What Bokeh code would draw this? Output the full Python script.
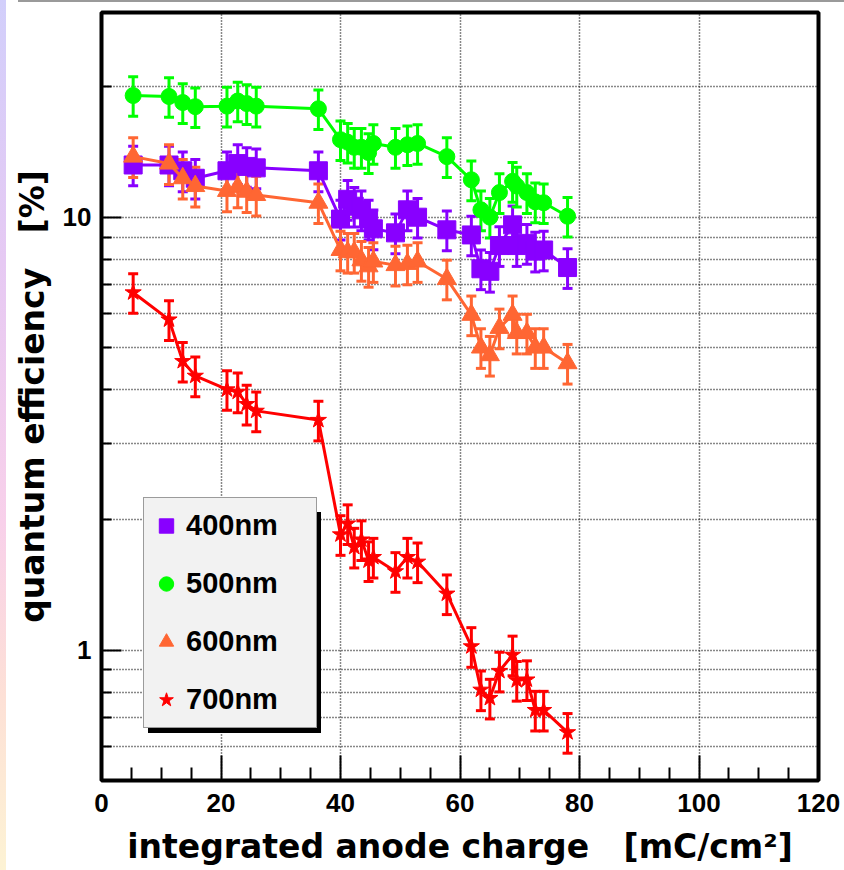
import numpy as np
from bokeh.plotting import figure
from bokeh.models import (ColumnDataSource, Whisker, TeeHead, Legend, LegendItem,
                          FixedTicker, Range1d, PrintfTickFormatter)
from bokeh.embed import file_html
from bokeh.resources import INLINE

# integrated anode charge [mC/cm^2] at each measurement
charge = [5.3, 11.3, 13.6, 15.7, 21.0, 22.8, 24.3, 25.9, 36.3,
          40.0, 41.2, 42.3, 43.5, 44.7, 45.5, 49.2, 51.2, 52.9, 57.8,
          61.9, 63.5, 65.0, 66.6, 68.8, 69.5, 71.2, 72.6, 74.0, 78.0]

# quantum efficiency [%] per wavelength
qe_400 = [13.2, 13.2, 12.8, 12.3, 12.8, 13.3, 13.1, 13.0, 12.8,
          9.9, 11.0, 10.6, 10.4, 9.9, 9.4, 9.2, 10.4, 10.0, 9.35,
          9.1, 7.6, 7.5, 8.6, 9.6, 8.6, 8.7, 8.35, 8.4, 7.65]
qe_500 = [19.1, 19.0, 18.4, 18.0, 18.05, 18.55, 18.3, 18.05, 17.8,
          15.1, 14.9, 14.5, 14.5, 14.1, 14.8, 14.5, 14.7, 14.8, 13.8,
          12.2, 10.4, 10.0, 11.4, 12.1, 11.8, 11.4, 10.85, 10.8, 10.05]
qe_600 = [13.8, 13.3, 12.3, 11.8, 11.5, 11.75, 11.45, 11.25, 10.8,
          8.4, 8.3, 8.3, 7.95, 7.7, 7.9, 7.75, 7.8, 7.9, 7.2,
          5.95, 5.0, 4.8, 5.55, 5.95, 5.4, 5.4, 5.0, 5.0, 4.6]
qe_700 = [6.7, 5.8, 4.65, 4.3, 4.0, 3.95, 3.7, 3.57, 3.4,
          1.85, 1.96, 1.73, 1.80, 1.61, 1.64, 1.52, 1.64, 1.60, 1.35,
          1.02, 0.81, 0.775, 0.895, 0.975, 0.852, 0.855, 0.727, 0.727, 0.646]

# relative uncertainty quoted on every QE measurement
REL_ERR = 0.105

labels = ["400nm", "500nm", "600nm", "700nm"]
series = [qe_400, qe_500, qe_600, qe_700]
colors = ["#8800ff", "#00ff00", "#ff6633", "#ff0000"]
markers = ["square", "circle", "triangle", "star"]
msizes = [18, 16, 19, 17]

x_ticks = [0, 20, 40, 60, 80, 100, 120]
x_minor = [v for v in range(5, 120, 5) if v % 20]
y_ticks = [1, 10]
y_minor = [0.5, 0.6, 0.7, 0.8, 0.9, 2, 3, 4, 5, 6, 7, 8, 9, 20]

NBSP3 = "\u00a0\u00a0\u00a0"

p = figure(width=844, height=870, x_range=Range1d(0, 120), y_range=Range1d(0.5, 29.7),
           y_axis_type="log", output_backend="svg", toolbar_location=None,
           min_border_left=101, min_border_right=26, min_border_top=12,
           min_border_bottom=90)

# page decoration: thin pastel strip on the left, grey rule on top
p.border_fill_alpha = 0
p.styles = {
    "background": ("linear-gradient(to bottom, #d2cffb 0%, #e6c9f3 30%, #f8d0ea 60%, "
                   "#fde0d6 80%, #fdf3d4 100%) 0 0 / 6px 100% no-repeat, "
                   "linear-gradient(#9a9a9a, #9a9a9a) 18px 0 / 100% 2px no-repeat, #ffffff"),
}
p.background_fill_color = "white"
p.outline_line_color = "black"
p.outline_line_width = 4

# axes
for ax in (p.xaxis[0], p.yaxis[0]):
    ax.axis_line_color = None
    ax.major_tick_out = 0
    ax.minor_tick_out = 0
    ax.major_tick_line_color = "black"
    ax.minor_tick_line_color = "black"
    ax.major_tick_line_width = 2
    ax.minor_tick_line_width = 2
    ax.major_label_text_font = "Liberation Sans"
    ax.major_label_text_font_style = "bold"
    ax.major_label_text_font_size = "26px"
    ax.major_label_text_color = "black"
    ax.axis_label_text_font = "DejaVu Sans"
    ax.axis_label_text_font_style = "bold"
    ax.axis_label_text_font_size = "33px"
    ax.axis_label_text_color = "black"

p.xaxis.ticker = FixedTicker(ticks=x_ticks, minor_ticks=x_minor)
p.xaxis.major_tick_in = 25
p.xaxis.minor_tick_in = 13
p.xaxis.major_label_standoff = 13
p.xaxis.axis_label_standoff = 12
p.xaxis.axis_label = "integrated anode charge" + NBSP3 + "[mC/cm\u00b2]"

p.yaxis.ticker = FixedTicker(ticks=y_ticks, minor_ticks=y_minor)
p.yaxis.formatter = PrintfTickFormatter(format="%d")
p.yaxis.major_tick_in = 20
p.yaxis.minor_tick_in = 10
p.yaxis.major_label_standoff = 10
p.yaxis.axis_label_standoff = 8
p.yaxis.axis_label = "quantum efficiency" + NBSP3 + "[%]"

# dotted grid
for g in (p.xgrid[0], p.ygrid[0]):
    g.grid_line_color = "#111111"
    g.grid_line_dash = "1 2"
    g.grid_line_width = 1.5
p.xgrid.ticker = FixedTicker(ticks=x_ticks)
p.ygrid.minor_grid_line_color = "#111111"
p.ygrid.minor_grid_line_dash = "1 2"
p.ygrid.minor_grid_line_width = 1.5

# data: error bars, connecting line, markers
marker_renderers = []
for qe, col, mk, ms in zip(series, colors, markers, msizes):
    qe = np.asarray(qe, dtype=float)
    src = ColumnDataSource(dict(x=charge, y=qe,
                                lo=qe * (1 - REL_ERR), hi=qe * (1 + REL_ERR)))
    p.add_layout(Whisker(source=src, base="x", lower="lo", upper="hi",
                         line_color=col, line_width=3,
                         upper_head=TeeHead(size=10, line_color=col, line_width=3),
                         lower_head=TeeHead(size=10, line_color=col, line_width=3)))
    p.line("x", "y", source=src, line_color=col, line_width=3)
    r = p.scatter("x", "y", source=src, marker=mk, size=ms,
                  fill_color=col, line_color=col)
    marker_renderers.append(r)

# legend with a drop shadow
ghost = p.scatter(x=[], y=[], size=1, fill_alpha=0, line_alpha=0)
legend_kw = dict(glyph_width=36, glyph_height=47, label_height=47, spacing=11,
                 padding=4, label_standoff=2, margin=0,
                 label_text_font="Liberation Sans", label_text_font_style="bold",
                 label_text_font_size="29px", label_text_color="black")
shadow = Legend(items=[LegendItem(label=" ", renderers=[ghost]) for _ in labels],
                location=(47, 47), label_width=135, background_fill_color="black",
                background_fill_alpha=1, border_line_color=None, **legend_kw)
legend = Legend(items=[LegendItem(label=lab, renderers=[r])
                       for lab, r in zip(labels, marker_renderers)],
                location=(42, 52), label_width=126, background_fill_color="#f2f2f2",
                background_fill_alpha=1, border_line_color="#444444",
                border_line_width=1.5, **legend_kw)
p.add_layout(shadow)
p.add_layout(legend)

open("out.html", "w").write(file_html(p, INLINE))
